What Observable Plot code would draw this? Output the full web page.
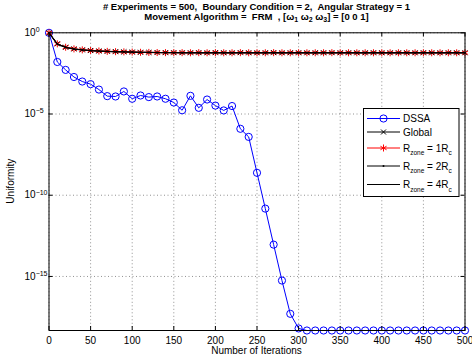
<!DOCTYPE html>
<html><head><meta charset="utf-8">
<script src="https://cdn.jsdelivr.net/npm/d3@7"></script>
<script src="https://cdn.jsdelivr.net/npm/@observablehq/plot@0.6"></script>
<style>body{margin:0;background:#fff} svg{display:block}</style>
</head><body><div id="chart"></div>
<script>
// ---- data ----
const iterations = [0,10,20,30,40,50,60,70,80,90,100,110,120,130,140,150,160,170,180,190,200,
  210,220,230,240,250,260,270,280,290,300,310,320,330,340,350,360,370,380,390,400,
  410,420,430,440,450,460,470,480,490,500];
const dssa = [1,1.6e-2,5.2e-3,1.9e-3,1.0e-3,6.9e-4,3.2e-4,1.26e-4,1.2e-4,2.45e-4,8.7e-5,
  1.38e-4,1.1e-4,1.2e-4,8.7e-5,5.1e-5,1.7e-5,1.32e-4,2.4e-5,7.8e-5,3.3e-5,
  1.66e-5,3.1e-5,1.23e-6,3.9e-7,2.4e-9,1.5e-11,9.1e-14,5.6e-16,5.0e-18,6.3e-19,
  4.7e-19,4.7e-19,4.7e-19,4.7e-19,4.7e-19,4.7e-19,4.7e-19,4.7e-19,4.7e-19,4.7e-19,
  4.7e-19,4.7e-19,4.7e-19,4.7e-19,4.7e-19,4.7e-19,4.7e-19,4.7e-19,4.7e-19,4.7e-19];
const globalU = [1,0.209,0.129,0.102,0.089,0.081,0.076,0.072,0.069,0.067,0.065,
  0.063,0.062,0.061,0.060,0.060,0.060,0.059,0.060,0.059,0.060,
  0.059,0.059,0.060,0.059,0.059,0.059,0.060,0.059,0.059,0.059,
  0.059,0.059,0.059,0.060,0.059,0.059,0.059,0.059,0.059,0.059,
  0.059,0.059,0.059,0.059,0.059,0.059,0.059,0.059,0.059,0.059];
const rzone1 = [1,0.209,0.129,0.102,0.089,0.081,0.076,0.072,0.069,0.067,0.065,
  0.063,0.062,0.061,0.060,0.060,0.060,0.059,0.060,0.059,0.060,
  0.059,0.059,0.060,0.059,0.059,0.059,0.060,0.059,0.059,0.059,
  0.059,0.059,0.059,0.060,0.059,0.059,0.059,0.059,0.059,0.059,
  0.059,0.059,0.059,0.059,0.059,0.059,0.059,0.059,0.059,0.059];
const rzone2 = [1,0.205,0.127,0.101,0.088,0.080,0.075,0.071,0.069,0.067,0.065,
  0.063,0.062,0.061,0.060,0.060,0.060,0.059,0.059,0.059,0.059,
  0.059,0.059,0.059,0.059,0.059,0.059,0.059,0.059,0.059,0.059,
  0.059,0.059,0.059,0.059,0.059,0.059,0.059,0.059,0.059,0.059,
  0.059,0.059,0.059,0.059,0.059,0.059,0.059,0.059,0.059,0.059];
const rzone4 = [1,0.200,0.126,0.100,0.088,0.080,0.075,0.071,0.068,0.066,0.064,
  0.063,0.062,0.061,0.060,0.060,0.059,0.059,0.059,0.059,0.059,
  0.059,0.059,0.059,0.059,0.059,0.059,0.059,0.059,0.059,0.059,
  0.059,0.059,0.059,0.059,0.059,0.059,0.059,0.059,0.059,0.059,
  0.059,0.059,0.059,0.059,0.059,0.059,0.059,0.059,0.059,0.059];
const xTicks = [0,50,100,150,200,250,300,350,400,450,500];
const yTicks = [1,1e-5,1e-10,1e-15];
const yDomain = [4.7e-19, 1];
const titleLine1 = "# Experiments = 500,  Boundary Condition = 2,  Angular Strategy = 1";
const xLabel = "Number of Iterations";
const yLabel = "Uniformity";

// ---- layout ----
const W = 472, H = 363;
const mL = 48.5, mR = 7.5, mT = 32.3, mB = 33;
const fw = W - mL - mR, fh = H - mT - mB;
const FONT = "'Liberation Sans', Arial, Helvetica, sans-serif";

const rows = iterations.map((it, i) => ({it, dssa: dssa[i], g: globalU[i], r1: rzone1[i], r2: rzone2[i], r4: rzone4[i]}));
const grid = {stroke: "#000", strokeOpacity: 0.55, strokeDasharray: "1,2.5", strokeWidth: 0.8};

const svg = Plot.plot({
  width: W, height: H, marginLeft: mL, marginRight: mR, marginTop: mT, marginBottom: mB,
  style: {fontFamily: FONT, fontSize: "10px", background: "#fff", color: "#000"},
  x: {domain: [0, 500]},
  y: {type: "log", domain: yDomain},
  marks: [
    Plot.gridX(xTicks, grid),
    Plot.gridY(yTicks, grid),
    Plot.line(rows, {x: "it", y: "dssa", stroke: "#0000ff", strokeWidth: 1}),
    Plot.dot(rows, {x: "it", y: "dssa", stroke: "#0000ff", fill: "none", r: 3.6, strokeWidth: 1}),
    Plot.line(rows, {x: "it", y: "g", stroke: "#000", strokeWidth: 1}),
    Plot.dot(rows, {x: "it", y: "g", symbol: "times", stroke: "#000", r: 2.4, strokeWidth: 1}),
    Plot.line(rows, {x: "it", y: "r1", stroke: "#ff0000", strokeWidth: 1}),
    Plot.dot(rows, {x: "it", y: "r1", symbol: "asterisk", stroke: "#ff0000", r: 3.3, strokeWidth: 1}),
    Plot.line(rows, {x: "it", y: "r2", stroke: "#000", strokeWidth: 1}),
    Plot.dot(rows, {x: "it", y: "r2", fill: "#000", r: 1}),
    Plot.line(rows, {x: "it", y: "r4", stroke: "#000", strokeWidth: 1.3}),
    Plot.frame({stroke: "#000", strokeWidth: 1}),
    Plot.tickX(xTicks, {x: d => d, insetTop: fh - 4, stroke: "#000"}),
    Plot.tickX(xTicks, {x: d => d, insetBottom: fh - 4, stroke: "#000"}),
    Plot.tickY(yTicks, {y: d => d, insetRight: fw - 4, stroke: "#000"}),
    Plot.tickY(yTicks, {y: d => d, insetLeft: fw - 4, stroke: "#000"}),
    Plot.axisX(xTicks, {tickSize: 0, tickPadding: 6, label: null, fontSize: 10}),
    Plot.axisY(yTicks, {tickSize: 0, tickPadding: 3, label: null, fontSize: 10,
      tickFormat: d => "10^" + String(Math.round(Math.log10(d))).replace("-", "\u2212")})
  ]
});
document.getElementById("chart").appendChild(svg);

const s = d3.select(svg);
// superscript y tick labels, "10" left-aligned like the reference
s.selectAll('g[aria-label="y-axis tick label"] text').each(function() {
  const t = this.textContent.split("^");
  const el = d3.select(this);
  el.text(null).attr("text-anchor", "start");
  el.append("tspan").attr("dx", -(mL - 3 - 24)).text(t[0]);
  el.append("tspan").attr("dy", "-0.55em").attr("font-size", "7px").text(t[1]);
});

// helper: text with subscripts
function richText(g, parts, x, y, opts) {
  const t = g.append("text").attr("x", x).attr("y", y)
    .attr("font-family", FONT).attr("font-size", opts.size + "px")
    .attr("font-weight", opts.weight || "normal").attr("text-anchor", opts.anchor || "start").attr("fill", "#000");
  let shift = 0;
  parts.forEach(p => {
    const sp = t.append("tspan").text(p.t);
    const target = p.sub ? opts.subDy : 0;
    if (target !== shift) { sp.attr("dy", target - shift); shift = target; }
    if (p.sub) sp.attr("font-size", opts.subSize + "px");
  });
  return t;
}

// title
const cx = mL + fw / 2;
richText(s, [{t: titleLine1}], cx, 9.8, {size: 9.5, weight: "bold", anchor: "middle"});
richText(s, [
  {t: "Movement Algorithm =  FRM  , [\u03c9"}, {t: "1", sub: 1}, {t: " \u03c9"}, {t: "2", sub: 1},
  {t: " \u03c9"}, {t: "3", sub: 1}, {t: "] = [0 0 1]"}
], cx, 19.5, {size: 9.5, weight: "bold", anchor: "middle", subDy: 2.5, subSize: 7});

// axis labels
s.append("text").attr("x", cx).attr("y", 354).attr("text-anchor", "middle")
  .attr("font-family", FONT).attr("font-size", "10px").text(xLabel);
s.append("text").attr("transform", `translate(14,${mT + fh / 2}) rotate(-90)`).attr("text-anchor", "middle")
  .attr("font-family", FONT).attr("font-size", "10px").text(yLabel);

// legend
const lg = s.append("g");
lg.append("rect").attr("x", 363.5).attr("y", 108.5).attr("width", 95.5).attr("height", 88)
  .attr("fill", "#fff").attr("stroke", "#000").attr("stroke-width", 1);
const entries = [
  {y: 118.5, color: "#0000ff", marker: "circle", label: [{t: "DSSA"}]},
  {y: 132, color: "#000", marker: "times", label: [{t: "Global"}]},
  {y: 148, color: "#ff0000", marker: "asterisk", label: [{t: "R"}, {t: "zone", sub: 1}, {t: " = 1R"}, {t: "c", sub: 1}]},
  {y: 166, color: "#000", marker: "point", label: [{t: "R"}, {t: "zone", sub: 1}, {t: " = 2R"}, {t: "c", sub: 1}]},
  {y: 184.5, color: "#000", marker: null, label: [{t: "R"}, {t: "zone", sub: 1}, {t: " = 4R"}, {t: "c", sub: 1}]}
];
entries.forEach(e => {
  lg.append("line").attr("x1", 367).attr("x2", 400).attr("y1", e.y).attr("y2", e.y)
    .attr("stroke", e.color).attr("stroke-width", 1);
  const mx = 383.5;
  if (e.marker === "circle") lg.append("circle").attr("cx", mx).attr("cy", e.y).attr("r", 3.6).attr("fill", "none").attr("stroke", e.color);
  else if (e.marker === "times") lg.append("path").attr("d", d3.symbol(d3.symbolTimes, 18)()).attr("transform", `translate(${mx},${e.y})`).attr("stroke", e.color).attr("fill", "none");
  else if (e.marker === "asterisk") lg.append("path").attr("d", d3.symbol(d3.symbolAsterisk, 34)()).attr("transform", `translate(${mx},${e.y})`).attr("stroke", e.color).attr("fill", "none");
  else if (e.marker === "point") lg.append("circle").attr("cx", mx).attr("cy", e.y).attr("r", 1).attr("fill", e.color);
  richText(lg, e.label, 403, e.y + 3.6, {size: 10, subDy: 3.5, subSize: 6.5});
});
</script></body></html>
